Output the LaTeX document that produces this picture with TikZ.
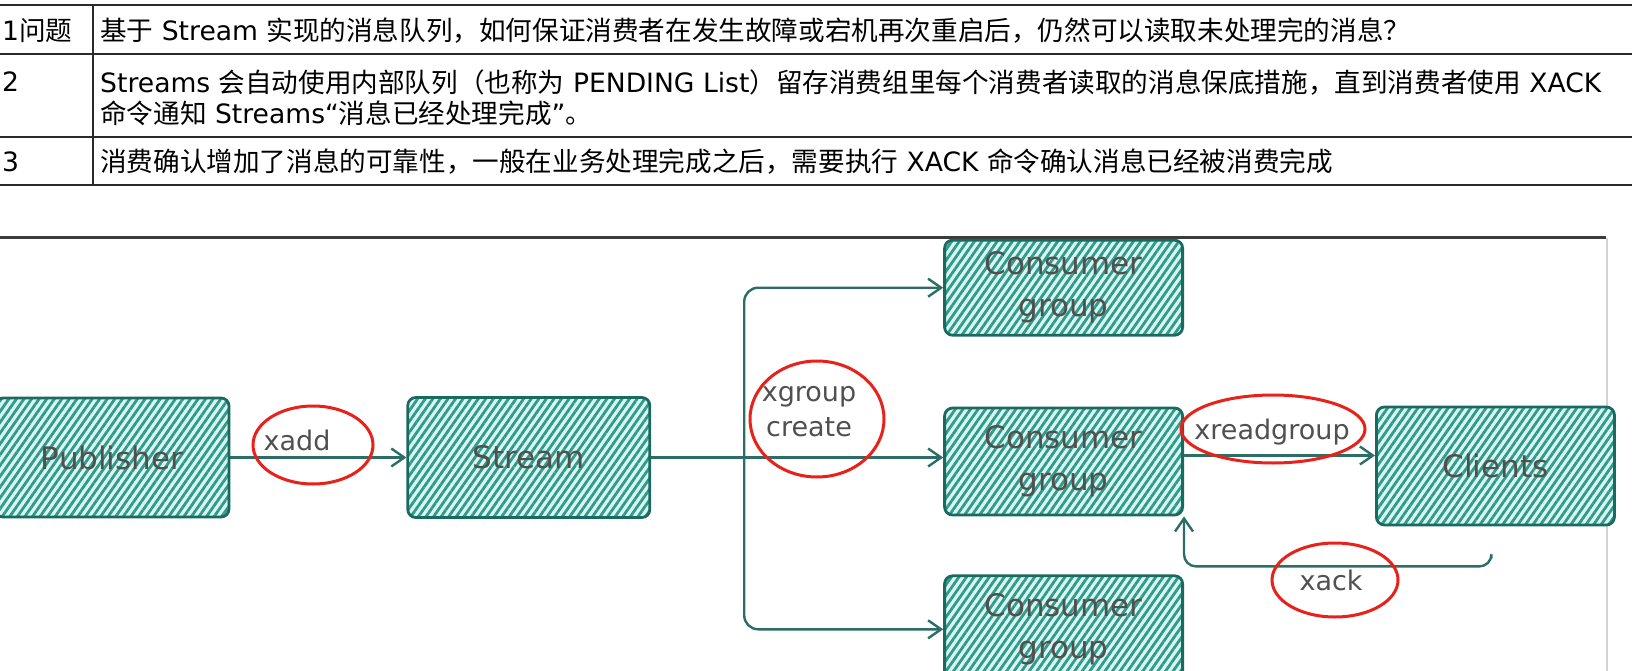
\documentclass[tikz,border=0pt]{standalone}
\usepackage{fontspec}
\setmainfont{DejaVu Sans}
\newfontfamily\cjk{Noto Sans CJK SC}
\usetikzlibrary{arrows.meta,positioning,shapes.geometric,patterns.meta,calc}
\definecolor{cline}{HTML}{2A2A2A}
\definecolor{cframe}{HTML}{3C3C3C}
\definecolor{cedge}{HTML}{D4D4D4}
\definecolor{cteal}{HTML}{2E9C8C}
\definecolor{ctealD}{HTML}{1B6A60}
\definecolor{ctealL}{HTML}{DDF5F0}
\definecolor{cflow}{HTML}{2C6E66}
\definecolor{ctext}{HTML}{505050}
\definecolor{cring}{HTML}{E8221B}
\newcommand{\zh}[1]{{\cjk #1}}
\tikzset{
  cell/.style={anchor=west, inner sep=0pt, align=left,
               font=\fontsize{26.6}{31}\selectfont},
  sbox/.style={draw=ctealD, line width=2.8pt, rounded corners=8pt, align=center,
               preaction={fill=ctealL},
               pattern={Lines[angle=55,distance=6.2pt,line width=2.8pt]}, pattern color=cteal,
               text=ctext, font=\fontsize{31}{42}\selectfont,
               minimum width=238pt, minimum height=118pt},
  cgbox/.style={sbox, minimum height=107pt},
  link/.style={draw=cflow, line width=2.4pt},
  flow/.style={link, -{Straight Barb[length=13pt,width=18pt]}},
  lbl/.style={text=ctext, font=\fontsize{27}{35}\selectfont, align=center, inner sep=0pt},
  ring/.style={ellipse, draw=cring, line width=3pt},
}

\begin{document}
\begin{tikzpicture}[x=1pt, y=-1pt]
  \fill[white] (0,0) rectangle (1632,671);
  \useasboundingbox (0,0) rectangle (1632,671);
  % table
  \draw[cline, line width=2.6pt] (0,5) -- (1632,5) (0,54) -- (1632,54)
    (0,137) -- (1632,137) (0,185) -- (1632,185);
  \draw[cline, line width=2pt] (93,5) -- (93,185);
  \node[cell] (k1) at (2,31) {1\zh{问题}};
  \node[cell] (k2) at (2,82) {2};
  \node[cell] (k3) at (2,162) {3};
  \node[cell] (t1) at (100,31) {\zh{基于} Stream \zh{实现的消息队列，如何保证消费者在发生故障或宕机再次重启后，仍然可以读取未处理完的消息？}};
  \node[cell] (t2) at (100,97.5) {Streams \zh{会自动使用内部队列（也称为} PENDING List\zh{）留存消费组里每个消费者读取的消息保底措施，直到消费者使用} XACK\\
    \zh{命令通知} Streams“\zh{消息已经处理完成}”\zh{。}};
  \node[cell] (t3) at (100,162) {\zh{消费确认增加了消息的可靠性，一般在业务处理完成之后，需要执行} XACK \zh{命令确认消息已经被消费完成}};
  % frame of the sketch
  \draw[cframe, line width=3pt] (0,237) -- (1606,237);
  \draw[cedge, line width=2.5pt] (1607,238) -- (1607,671);
  % boxes
  \node[sbox, minimum width=234pt, minimum height=119pt] (pub) at (112,457.5) {Publisher};
  \node[sbox, right=176pt of pub, minimum width=242pt, minimum height=120pt] (stream) {Stream};
  \node[cgbox, right=292pt of stream, yshift=-4pt] (cg2) {Consumer\\group};
  \node[cgbox, above=70pt of cg2, minimum height=95pt] (cg1) {Consumer\\group};
  \node[cgbox, below=58pt of cg2] (cg3) {Consumer\\group};
  \node[sbox, right=191pt of cg2, yshift=-4.5pt] (clients) {Clients};
  % arrows
  \coordinate[right=93pt of stream.east] (fork);
  \coordinate[yshift=6pt] (readfrom) at (cg2.east);
  \coordinate (ackfrom) at ($(clients.south)+(-4,32)$);
  \draw[flow] (pub) -- (stream);
  \draw[link] (stream) -- (fork);
  \draw[flow, rounded corners=14pt] (fork) |- (cg1);
  \draw[flow] (fork) -- (fork -| cg2.west);
  \draw[flow, rounded corners=14pt] (fork) |- (cg3);
  \draw[flow] (readfrom) -- (readfrom -| clients.west);
  \draw[flow, rounded corners=12pt] (ackfrom) -- ++(0,8) -| (cg2.south east);
  % commands, ringed in red
  \node[lbl] (xadd) at (297,440) {xadd};
  \node[ring, minimum width=120pt, minimum height=78pt] (ringadd) at ($(xadd)+(16,5)$) {};
  \node[lbl] (xcreate) at (809,412) {xgroup\\create};
  \node[ring, minimum width=134pt, minimum height=116pt] (ringcreate) at ($(xcreate)+(8,7)$) {};
  \node[lbl] (xread) at (1272,432) {xreadgroup};
  \node[ring, minimum width=184pt, minimum height=68pt] (ringread) at ($(xread)+(1,-3)$) {};
  \node[lbl] (xack) at (1331,580) {xack};
  \node[ring, minimum width=126pt, minimum height=74pt] (ringack) at ($(xack)+(4,0)$) {};
\end{tikzpicture}
\end{document}
